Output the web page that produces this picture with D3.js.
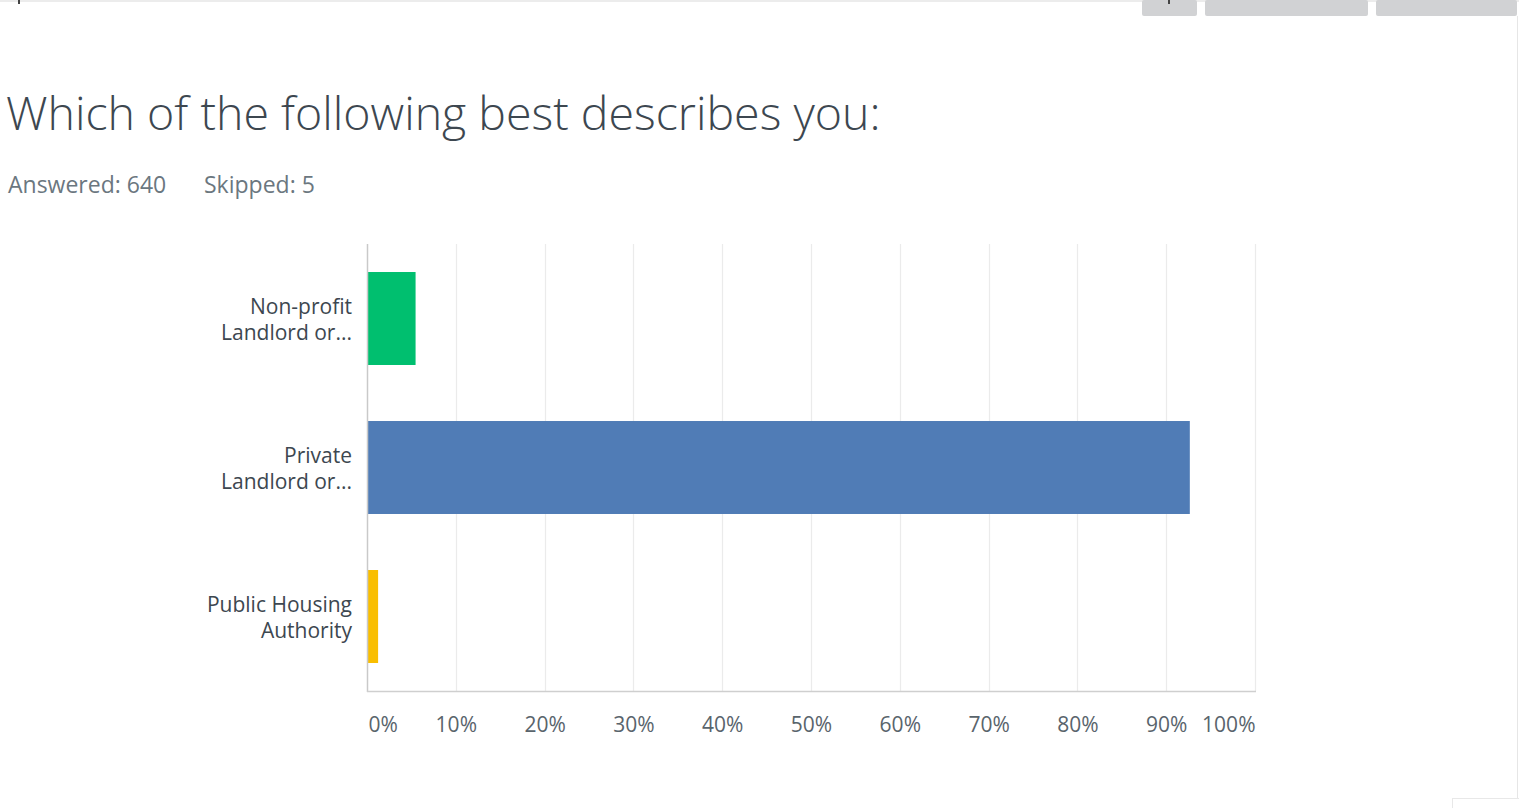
<!DOCTYPE html>
<html><head><meta charset="utf-8">
<script src="https://cdn.jsdelivr.net/npm/d3@7"></script>
<style>
html,body{margin:0;padding:0;background:#fff;overflow:hidden}
svg{display:block}
</style></head>
<body>
<svg id="c" width="1519" height="808"></svg>
<script>
const categories = [["Non-profit","Landlord or..."],["Private","Landlord or..."],["Public Housing","Authority"]];
const values = [5.47, 92.66, 1.25];
const colors = ["#00bf6f","#507cb6","#f9be00"];
const tickValues = [0,10,20,30,40,50,60,70,80,90,100];
const tickLabels = ["0%","10%","20%","30%","40%","50%","60%","70%","80%","90%","100%"];
const title = "Which of the following best describes you:";
const answered = "Answered: 640";
const skipped = "Skipped: 5";

(function(){
const svg = d3.select("#c");
const F = "'Open Sans', 'Noto Sans', sans-serif";

// page chrome
svg.append("rect").attr("x",0).attr("y",0).attr("width",1519).attr("height",2).attr("fill","#ececec");
[[1142,55],[1205,163],[1376,141]].forEach(([x,w])=>{
  svg.append("rect").attr("x",x).attr("y",0).attr("width",w).attr("height",16).attr("rx",2).attr("fill","#d1d2d4");
});
svg.append("rect").attr("x",18).attr("y",0).attr("width",2).attr("height",4).attr("fill","#444");
svg.append("rect").attr("x",1168).attr("y",0).attr("width",2).attr("height",4).attr("fill","#444");
svg.append("line").attr("x1",1517.5).attr("x2",1517.5).attr("y1",16).attr("y2",808).attr("stroke","#e6e6e6");
svg.append("rect").attr("x",1452.5).attr("y",798.5).attr("width",70).attr("height",20).attr("fill","#fff").attr("stroke","#e8e8e8");

// title
svg.append("text").attr("x",6).attr("y",130).attr("font-family",F).attr("font-weight",300)
  .attr("font-size",46.5).attr("fill","#3d4750").text(title);
svg.append("text").attr("x",8).attr("y",193).attr("font-family",F)
  .attr("font-size",23).attr("fill","#6b777f").text(answered);
svg.append("text").attr("x",204).attr("y",193).attr("font-family",F)
  .attr("font-size",23).attr("fill","#6b777f").text(skipped);

const pl = 367, pr = 1255, pt = 244, pb = 691;
const x = d3.scaleLinear().domain([0,100]).range([pl,pr]);
const y = d3.scaleBand().domain(d3.range(categories.length)).range([pt,pb])
  .paddingInner(0.376).paddingOuter(0.188);

// gridlines
svg.append("g").selectAll("line").data(tickValues.slice(1)).join("line")
  .attr("x1",d=>Math.round(x(d))+0.5).attr("x2",d=>Math.round(x(d))+0.5)
  .attr("y1",pt).attr("y2",pb).attr("stroke","#ebebeb").attr("stroke-width",1.2);

// bars
svg.append("g").selectAll("rect").data(values).join("rect")
  .attr("x",x(0)+1).attr("y",(d,i)=>y(i)).attr("width",d=>x(d)-x(0)-1)
  .attr("height",y.bandwidth()).attr("fill",(d,i)=>colors[i]);

// axis lines
svg.append("line").attr("x1",pl+0.5).attr("x2",pl+0.5).attr("y1",pt).attr("y2",pb+1)
  .attr("stroke","#c9c9c9").attr("stroke-width",1.5);
svg.append("line").attr("x1",pl).attr("x2",pr+1).attr("y1",pb+0.5).attr("y2",pb+0.5)
  .attr("stroke","#cfcfcf").attr("stroke-width",1.5);

// x axis labels
const xa = svg.append("g").attr("transform",`translate(0,${pb})`)
  .call(d3.axisBottom(x).tickValues(tickValues).tickSize(0).tickPadding(0)
    .tickFormat((d,i)=>tickLabels[i]));
xa.select(".domain").remove();
xa.selectAll("text").attr("font-family",F).attr("font-size",21).attr("fill","#59646c")
  .attr("y",41).attr("dy",0)
  .attr("text-anchor",(d,i)=> i===0?"start":(i===tickValues.length-1?"end":"middle"))
  .attr("dx",(d,i)=> i===0? 1 : 0);

// category labels
const cg = svg.append("g");
categories.forEach((lines,i)=>{
  const cy = y(i)+y.bandwidth()/2;
  const t = cg.append("text").attr("font-family",F).attr("font-size",21).attr("fill","#3d4750")
    .attr("text-anchor","end");
  lines.forEach((ln,j)=>{
    t.append("tspan").attr("x",352).attr("y",cy - 5 + j*26).text(ln);
  });
});
})();
</script>
</body></html>
